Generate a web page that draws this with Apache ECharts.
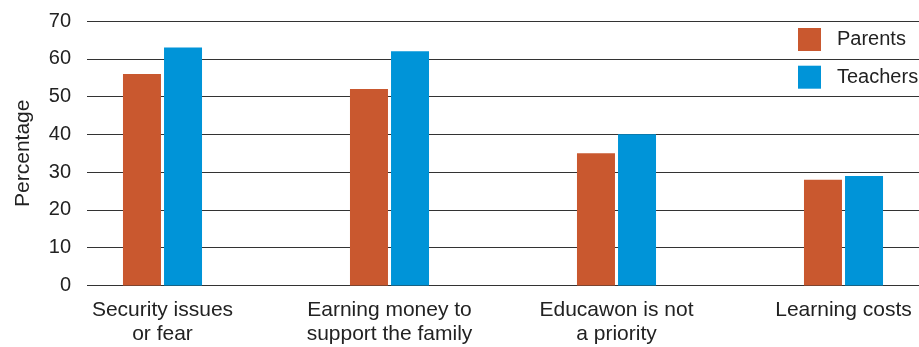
<!DOCTYPE html>
<html>
<head>
<meta charset="utf-8">
<script src="https://cdn.jsdelivr.net/npm/echarts@6/dist/echarts.min.js"></script>
<style>
  html, body { margin: 0; padding: 0; background: #fff; }
  #chart { width: 919px; height: 347px; }
</style>
</head>
<body>
<div id="chart"></div>
<script>
// Reasons children are out of school, as reported by parents and teachers
var categories = [
  'Security issues\nor fear',
  'Earning money to\nsupport the family',
  'Educawon is not\na priority',
  'Learning costs'
];
var parentsValues = [56, 52, 35, 28];
var teachersValues = [63, 62, 40, 29];
var yTicks = { min: 0, max: 70, interval: 10 };

var textColor = '#222';
var fontFamily = '"Liberation Sans", Arial, sans-serif';

// category slots are placed on a numeric axis (0..3) so the groups can sit
// wider apart than the visible plot area would allow
var slots = categories.map(function (_, i) { return i; });
function pairs(values) {
  return values.map(function (v, i) { return [slots[i], v]; });
}

var chart = echarts.init(document.getElementById('chart'));
chart.setOption({
  animation: false,
  textStyle: { fontFamily: fontFamily, color: textColor },
  legend: {
    orient: 'vertical',
    left: 798,
    top: 28,
    padding: 0,
    itemWidth: 23,
    itemHeight: 23,
    itemGap: 14.7,
    icon: 'rect',
    textStyle: { fontSize: 20, color: textColor, padding: [0, 0, 0, 11] },
    data: ['Parents', 'Teachers']
  },
  grid: { left: 87, right: 0, top: 21, bottom: 61.5, containLabel: false },
  xAxis: {
    type: 'value',
    min: -0.3326,
    max: 3.3326,
    axisLine: { show: false },
    axisTick: { show: false },
    splitLine: { show: false },
    axisLabel: {
      customValues: slots,
      formatter: function (v) { return categories[Math.round(v)]; },
      margin: 13,
      fontSize: 21,
      lineHeight: 24,
      color: textColor
    }
  },
  yAxis: {
    type: 'value',
    min: yTicks.min,
    max: yTicks.max,
    interval: yTicks.interval,
    name: 'Percentage',
    nameLocation: 'middle',
    nameGap: 53,
    nameTextStyle: { fontSize: 21, color: textColor },
    axisLine: { show: false },
    axisTick: { show: false },
    axisLabel: { margin: 16, fontSize: 20, color: textColor },
    splitLine: { show: true, lineStyle: { color: '#333', width: 1 } }
  },
  series: [
    {
      name: 'Parents',
      type: 'bar',
      data: pairs(parentsValues),
      barWidth: 38,
      barGap: '8%',
      itemStyle: { color: '#C9582F' }
    },
    {
      name: 'Teachers',
      type: 'bar',
      data: pairs(teachersValues),
      barWidth: 38,
      barGap: '8%',
      itemStyle: { color: '#0094D8' }
    }
  ]
});
</script>
</body>
</html>
